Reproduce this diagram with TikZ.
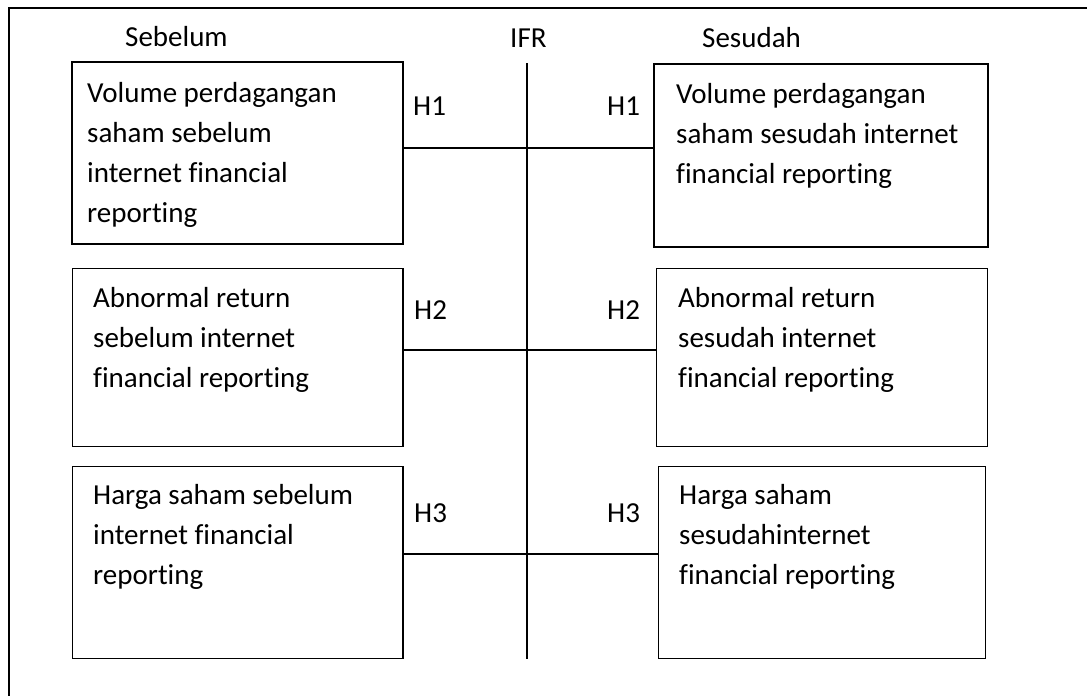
\documentclass[tikz,border=0pt]{standalone}
\usepackage{fontspec}
\setmainfont{Carlito}[Ligatures=NoCommon,RawFeature={-liga;-clig}]
\begin{document}
\begin{tikzpicture}[x=1pt,y=-1pt,
  varbox/.style={draw=black,line width=1.5pt,rectangle,inner sep=0pt,outer sep=0pt,anchor=north west},
  boxtext/.style={anchor=north west,inner sep=0pt,align=left,font=\fontsize{29}{40}\selectfont},
  lbl/.style={anchor=base west,inner sep=0pt,font=\fontsize{29}{35}\selectfont},
  conn/.style={line width=1.3pt,black}]
\useasboundingbox (0,0) rectangle (1087,696);
% outer frame
\draw[line width=1.8pt] (9,700) -- (9,8) -- (1090,8);
% headers
\node[lbl] (hsebelum) at (125,46) {Sebelum};
\node[lbl] (hifr) at (510,47) {IFR};
\node[lbl] (hsesudah) at (702,47) {Sesudah};
% boxes
\node[varbox,minimum width=331pt,minimum height=182pt] (L1) at (72,62) {};
\node[varbox,minimum width=330.5pt,minimum height=178pt] (L2) at (72.5,268.5) {};
\node[varbox,minimum width=330.5pt,minimum height=192pt] (L3) at (72.5,466.5) {};
\node[varbox,minimum width=334pt,minimum height=183pt] (R1) at (654,64) {};
\node[varbox,minimum width=331pt,minimum height=178pt] (R2) at (656.5,268.5) {};
\node[varbox,minimum width=327pt,minimum height=192pt] (R3) at (658.5,466.5) {};
% box texts
\node[boxtext] (tL1) at (87,74) {\strut Volume perdagangan\\saham sebelum\\internet financial\\reporting};
\node[boxtext] (tL2) at (93,279) {\strut Abnormal return\\sebelum internet\\financial reporting};
\node[boxtext] (tL3) at (93,476) {\strut Harga saham sebelum\\internet financial\\reporting};
\node[boxtext] (tR1) at (676,75) {\strut Volume perdagangan\\saham sesudah internet\\financial reporting};
\node[boxtext] (tR2) at (678,279) {\strut Abnormal return\\sesudah internet\\financial reporting};
\node[boxtext] (tR3) at (679,476) {\strut Harga saham\\sesudahinternet\\financial reporting};
% IFR axis
\coordinate (ifrtop) at (527,63);
\coordinate (ifrbot) at (527,659);
\draw[conn] (ifrtop) -- (ifrbot);
% connectors
\draw[conn] (L1.east |- 0,148) -- (R1.west |- 0,148);
\draw[conn] (L2.east |- 0,350) -- (R2.west |- 0,350);
\draw[conn] (L3.east |- 0,554) -- (R3.west |- 0,554);
% H labels
\node[lbl] (h1l) at (413,115) {H1};
\node[lbl] (h1r) at (607,115) {H1};
\node[lbl] (h2l) at (414,319) {H2};
\node[lbl] (h2r) at (607,319) {H2};
\node[lbl] (h3l) at (414,522) {H3};
\node[lbl] (h3r) at (607,522) {H3};
\end{tikzpicture}
\end{document}
